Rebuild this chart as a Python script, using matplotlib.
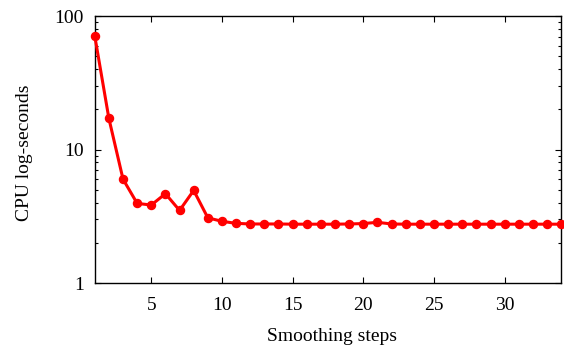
import matplotlib
matplotlib.use("Agg")
import matplotlib.pyplot as plt
from matplotlib.ticker import LogLocator, FixedLocator, NullFormatter

steps = list(range(1, 35))
cpu_seconds = [71, 17.1, 6.0, 3.95, 3.84, 4.67, 3.5, 4.94, 3.08, 2.90,
               2.80, 2.77, 2.77, 2.77, 2.76, 2.76, 2.76, 2.76, 2.77, 2.79,
               2.85, 2.77, 2.76, 2.76, 2.76, 2.76, 2.76, 2.76, 2.76, 2.76,
               2.76, 2.76, 2.76, 2.76]
x_ticks = [5, 10, 15, 20, 25, 30]
y_ticks = [1, 10, 100]
y_tick_labels = ["1", "10", "100"]

plt.rcParams['font.family'] = ['Liberation Serif', 'DejaVu Serif']
fig = plt.figure(figsize=(5.64, 3.49), dpi=100)
ax = fig.add_axes([0.168, 0.189, 0.827, 0.765])

ax.plot(steps, cpu_seconds, color='#ff0000', lw=2.2, marker='o', ms=5.8,
        clip_on=False, zorder=3)
ax.set_yscale('log')
ax.set_xlim(1, 34)
ax.set_ylim(1, 100)
ax.xaxis.set_major_locator(FixedLocator(x_ticks))
ax.set_yticks(y_ticks)
ax.set_yticklabels(y_tick_labels)
ax.yaxis.set_minor_locator(LogLocator(base=10, subs=range(2, 10)))
ax.yaxis.set_minor_formatter(NullFormatter())
ax.tick_params(which='both', direction='in', top=True, right=True,
               labelsize=14, width=0.8)
ax.tick_params(axis='x', which='major', pad=10)
ax.tick_params(axis='y', which='major', pad=8)
ax.tick_params(which='major', length=4)
ax.tick_params(which='minor', length=2.5)
for s in ax.spines.values():
    s.set_linewidth(1.0)
ax.set_xlabel('Smoothing steps', fontsize=14)
ax.set_ylabel('CPU log-seconds', fontsize=14)
ax.xaxis.set_label_coords(0.508, -0.169)
ax.yaxis.set_label_coords(-0.132, 0.489)
fig.savefig('out.png', dpi=100)
